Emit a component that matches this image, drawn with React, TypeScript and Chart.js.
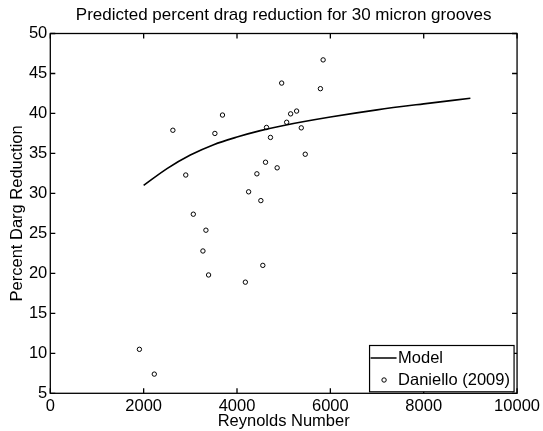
import React, { useEffect, useRef } from "react";
import { Chart, registerables } from "chart.js";

Chart.register(...registerables);

const titleText = "Predicted percent drag reduction for 30 micron grooves";
const xAxisTitle = "Reynolds Number";
const yAxisTitle = "Percent Darg Reduction";
const modelLabel = "Model";
const dataLabel = "Daniello (2009)";

// Model curve
const modelRe = [2000, 2500, 3000, 3500, 4000, 4500, 5000, 6000, 7000, 8000, 9000];
const modelDrag = [31.0, 33.1, 34.8, 36.1, 37.05, 37.85, 38.5, 39.55, 40.45, 41.2, 41.9];

// Daniello (2009) measurements
const danielloRe = [5845, 4957, 5787, 3689, 5277, 5149, 5064, 4632, 5377, 3526, 4717, 5462, 4611, 4860, 2902, 4426, 4249, 4511, 3064, 3334, 3270, 4553, 3391, 4179, 1909, 2228, 2626];
const danielloDrag = [46.7, 43.8, 43.1, 39.8, 40.3, 39.95, 38.9, 38.25, 38.2, 37.5, 37.0, 34.9, 33.9, 33.2, 32.3, 32.45, 30.2, 29.1, 27.4, 25.4, 22.8, 21.0, 19.8, 18.9, 10.5, 7.4, 37.9];

const xTicks = [0, 2000, 4000, 6000, 8000, 10000];
const yTicks = [5, 10, 15, 20, 25, 30, 35, 40, 45, 50];

const FONT = '"Liberation Sans", Arial, Helvetica, sans-serif';
const FS = 16.5;

const framePlugin = {
  id: "matlabFrame",
  afterDatasetsDraw(chart: any) {
    const { ctx, chartArea } = chart;
    const { left, right, top, bottom } = chartArea;
    const xs = chart.scales.x;
    const ys = chart.scales.y;
    ctx.save();
    ctx.strokeStyle = "#000";
    ctx.lineWidth = 1.3;
    ctx.strokeRect(left, top, right - left, bottom - top);
    const tl = 5;
    ctx.beginPath();
    xTicks.forEach((v) => {
      const px = xs.getPixelForValue(v);
      ctx.moveTo(px, bottom);
      ctx.lineTo(px, bottom - tl);
      ctx.moveTo(px, top);
      ctx.lineTo(px, top + tl);
    });
    yTicks.forEach((v) => {
      const py = ys.getPixelForValue(v);
      ctx.moveTo(left, py);
      ctx.lineTo(left + tl, py);
      ctx.moveTo(right, py);
      ctx.lineTo(right - tl, py);
    });
    ctx.stroke();

    // title
    ctx.fillStyle = "#000";
    ctx.font = `17px ${FONT}`;
    ctx.textAlign = "center";
    ctx.textBaseline = "middle";
    ctx.fillText(titleText, (left + right) / 2, 15.5);

    // legend
    const bx0 = right - 147.5;
    const bx1 = right - 3;
    const by0 = top + 312;
    const by1 = bottom - 1.5;
    ctx.fillStyle = "#fff";
    ctx.fillRect(bx0, by0, bx1 - bx0, by1 - by0);
    ctx.lineWidth = 1.2;
    ctx.strokeRect(bx0, by0, bx1 - bx0, by1 - by0);
    const row1 = by0 + 12.5;
    const row2 = by0 + 34.5;
    ctx.lineWidth = 1.5;
    ctx.beginPath();
    ctx.moveTo(bx0 + 1, row1);
    ctx.lineTo(bx0 + 27, row1);
    ctx.stroke();
    ctx.lineWidth = 1;
    ctx.beginPath();
    ctx.arc(bx0 + 14.5, row2, 2.2, 0, Math.PI * 2);
    ctx.stroke();
    ctx.fillStyle = "#000";
    ctx.textAlign = "left";
    ctx.font = `${FS}px ${FONT}`;
    ctx.fillText(modelLabel, bx0 + 28.5, row1);
    ctx.fillText(dataLabel, bx0 + 28.5, row2);
    ctx.restore();
  },
};

export default function App() {
  const ref = useRef<HTMLCanvasElement>(null);
  useEffect(() => {
    if (!ref.current) return;
    document.body.style.margin = "0";
    const chart = new Chart(ref.current, {
      type: "scatter",
      data: {
        datasets: [
          {
            label: modelLabel,
            data: modelRe.map((x, i) => ({ x, y: modelDrag[i] })),
            showLine: true,
            borderColor: "#000",
            borderWidth: 1.6,
            pointRadius: 0,
            cubicInterpolationMode: "monotone",
            fill: false,
          },
          {
            label: dataLabel,
            data: danielloRe.map((x, i) => ({ x, y: danielloDrag[i] })),
            showLine: false,
            borderColor: "#000",
            backgroundColor: "rgba(0,0,0,0)",
            borderWidth: 1,
            pointRadius: 2.2,
            pointStyle: "circle",
          },
        ],
      },
      plugins: [framePlugin],
      options: {
        responsive: false,
        animation: false,
        layout: { padding: { top: 33.5, right: 23, left: 0, bottom: 0 } },
        plugins: {
          legend: { display: false },
          title: { display: false },
          tooltip: { enabled: false },
        },
        scales: {
          x: {
            type: "linear",
            min: 0,
            max: 10000,
            afterFit: (s: any) => {
              s.height = 37.7;
            },
            afterBuildTicks: (s: any) => {
              s.ticks = xTicks.map((v) => ({ value: v }));
            },
            grid: { display: false, drawTicks: false },
            border: { display: false },
            ticks: {
              color: "#000",
              font: { family: FONT, size: FS },
              padding: 3,
              maxRotation: 0,
              autoSkip: false,
              callback: (v: any) => String(v),
            },
            title: {
              display: true,
              text: xAxisTitle,
              color: "#000",
              font: { family: FONT, size: FS },
              padding: { top: 0, bottom: 0 },
            },
          },
          y: {
            type: "linear",
            min: 5,
            max: 50,
            afterFit: (s: any) => {
              s.width = 50.3;
            },
            afterBuildTicks: (s: any) => {
              s.ticks = yTicks.map((v) => ({ value: v }));
            },
            grid: { display: false, drawTicks: false },
            border: { display: false },
            ticks: {
              color: "#000",
              font: { family: FONT, size: FS },
              padding: 3,
              autoSkip: false,
              callback: (v: any) => String(v),
            },
            title: {
              display: true,
              text: yAxisTitle,
              color: "#000",
              font: { family: FONT, size: FS },
              padding: { top: 7.5, bottom: 0 },
            },
          },
        },
      },
    });
    return () => chart.destroy();
  }, []);
  return (
    <div style={{ position: "fixed", left: 0, top: 0, width: 543, height: 431, background: "#fff" }}>
      <canvas ref={ref} width={543} height={431} style={{ display: "block" }} />
    </div>
  );
}
